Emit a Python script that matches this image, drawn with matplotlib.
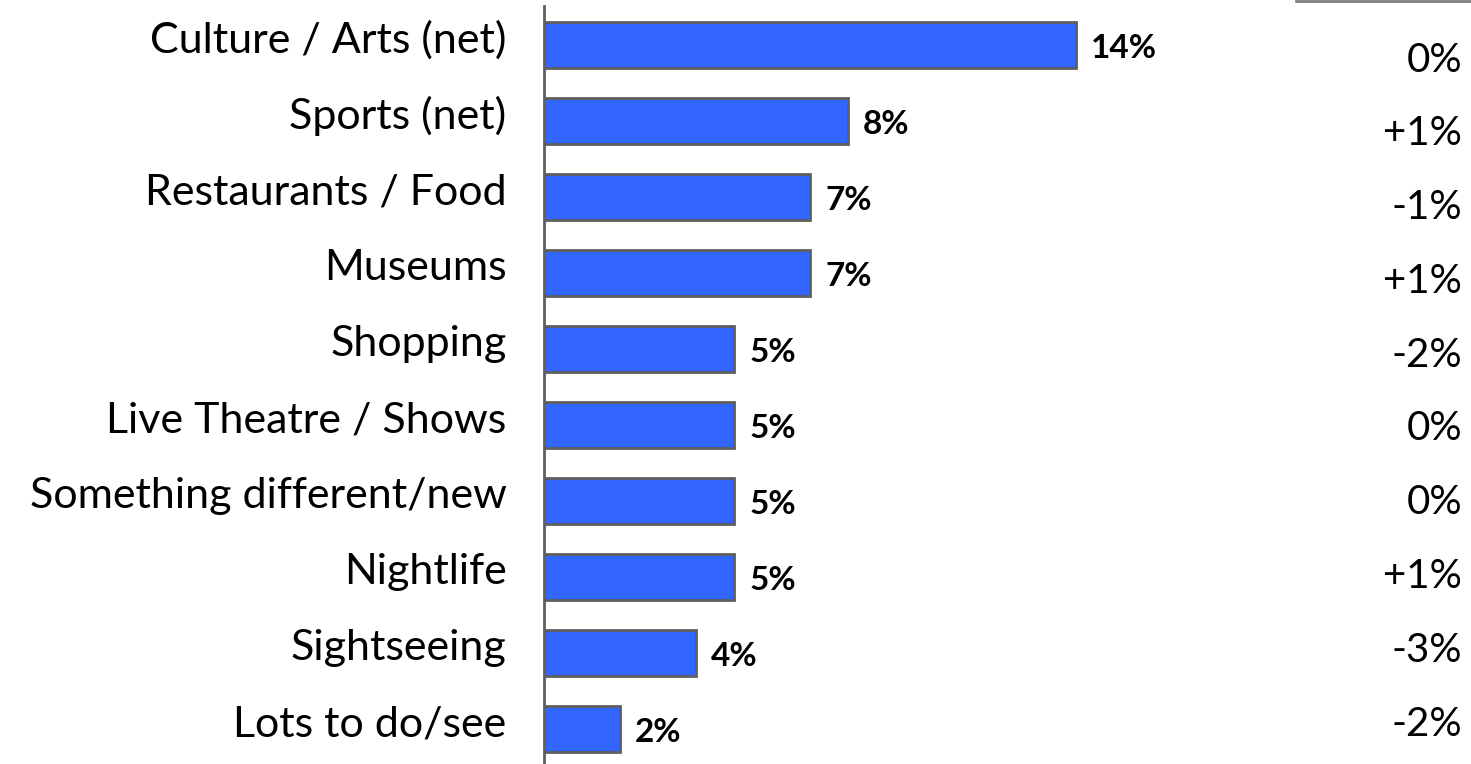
import matplotlib.pyplot as plt
from matplotlib.lines import Line2D
from matplotlib.transforms import ScaledTranslation

# -------------------------------------------------
# Data
# -------------------------------------------------
categories = [
    "Culture / Arts (net)",
    "Sports (net)",
    "Restaurants / Food",
    "Museums",
    "Shopping",
    "Live Theatre / Shows",
    "Something different/new",
    "Nightlife",
    "Sightseeing",
    "Lots to do/see",
]
values = [14, 8, 7, 7, 5, 5, 5, 5, 4, 2]
changes = ["0%", "+1%", "-1%", "+1%", "-2%", "0%", "0%", "+1%", "-3%", "-2%"]

plt.rcParams["font.family"] = ["Lato", "DejaVu Sans"]

W, H = 1471, 764
fig = plt.figure(figsize=(W / 100, H / 100), dpi=100)
ax = fig.add_axes([544 / W, 0, 912 / W, 758 / H])

y = list(range(len(categories)))
ax.barh(y, values, height=0.6, color="#3366FF", edgecolor="#5F5F5F", linewidth=2)

ax.set_xlim(0, 24)
ax.set_ylim(9.46, -0.51)

ax.set_yticks(y)
ax.set_yticklabels(categories, fontsize=31)
ax.tick_params(axis="y", length=0, pad=27)
ax.set_xticks([])

# labels sit a little above the bar centres
shift = ScaledTranslation(0, 8 / 100, fig.dpi_scale_trans)
for lab in ax.get_yticklabels():
    lab.set_transform(lab.get_transform() + shift)

for s in ["top", "right", "bottom"]:
    ax.spines[s].set_visible(False)
ax.spines["left"].set_color("#5F5F5F")
ax.spines["left"].set_linewidth(2)

# value labels
for yi, v in zip(y, values):
    ax.text(v + 0.4, yi + 0.05, f"{v}%", va="center", ha="left",
            fontsize=24, fontweight="bold", color="black")

# change column
for i, c in enumerate(changes):
    fig.text(1462 / W, 1 - (60 + i * 73.8) / H, c, ha="right", va="center",
             fontsize=29, color="black")

fig.add_artist(Line2D([1296 / W, 1], [0.999, 0.999], transform=fig.transFigure,
                      color="#7F7F7F", linewidth=2))

fig.savefig("out.png", dpi=100)
